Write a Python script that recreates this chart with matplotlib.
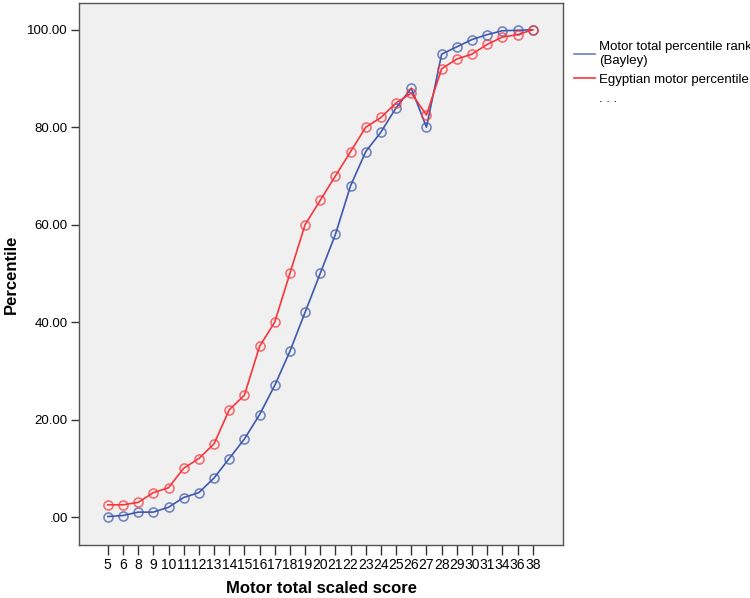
import numpy as np
import matplotlib
matplotlib.use('Agg')
import matplotlib.pyplot as plt
from matplotlib.lines import Line2D

plt.rcParams['font.family'] = ['Liberation Sans', 'DejaVu Sans']

scores = ['5', '6', '8', '9', '10', '11', '12', '13', '14', '15', '16', '17', '18', '19',
          '20', '21', '22', '23', '24', '25', '26', '27', '28', '29', '30', '31', '34', '36', '38']
bayley = [0.1, 0.3, 1, 1, 2, 4, 5, 8, 12, 16, 21, 27, 34, 42,
          50, 58, 68, 75, 79, 84, 88, 80, 95, 96.5, 98, 99, 99.8, 99.9, 100]
egyptian = [2.5, 2.5, 3, 5, 6, 10, 12, 15, 22, 25, 35, 40, 50, 60,
            65, 70, 75, 80, 82, 85, 87, 82.5, 92, 94, 95, 97, 98.5, 99, 100]

blue = '#3e58ac'
red = '#f8353b'

fig = plt.figure(figsize=(7.5, 5.98), dpi=100)
ax = fig.add_axes([0.1053, 0.0886, 0.6454, 0.9064])
ax.set_facecolor('#f0f0f0')

x = np.arange(len(scores))
ax.plot(x, bayley, color=blue, linewidth=1.2, marker='o', markersize=6.5,
        markerfacecolor='none', markeredgecolor=(0.243, 0.345, 0.675, 0.7), markeredgewidth=1.2)
ax.plot(x, egyptian, color=red, linewidth=1.2, marker='o', markersize=6.5,
        markerfacecolor='none', markeredgecolor=(0.97, 0.21, 0.23, 0.7), markeredgewidth=1.2)

ax.set_xlim(-1.9, 30.0)
ax.set_ylim(-5.75, 105.5)
ax.set_xticks(x)
ax.set_xticklabels(scores, fontsize=10)
ax.set_yticks([0, 20, 40, 60, 80, 100])
ax.set_yticklabels(['.00', '20.00', '40.00', '60.00', '80.00', '100.00'], fontsize=9.5)
ax.tick_params(axis='x', length=7, width=1, color='#333333', pad=2)
ax.tick_params(axis='y', length=6, width=1, color='#333333', pad=2)
for s in ax.spines.values():
    s.set_color('#555555')
    s.set_linewidth(1)

ax.set_xlabel('Motor total scaled score', fontsize=12, fontweight='bold', labelpad=7)
ax.set_ylabel('Percentile', fontsize=12, fontweight='bold')
ax.yaxis.set_label_coords(-0.125, 0.5)

handles = [Line2D([], [], color='#6b7fc4', linewidth=1.2),
           Line2D([], [], color=red, linewidth=1.2),
           Line2D([], [], color='none')]
labels = ['Motor total percentile rank\n(Bayley)', 'Egyptian motor percentile', '. . .']
fig.legend(handles, labels, loc='upper left', bbox_to_anchor=(0.758, 0.94),
           frameon=False, fontsize=9.5, handlelength=1.6, handletextpad=0.3,
           labelspacing=0.5, borderaxespad=0)

fig.savefig('out.png', dpi=100)
